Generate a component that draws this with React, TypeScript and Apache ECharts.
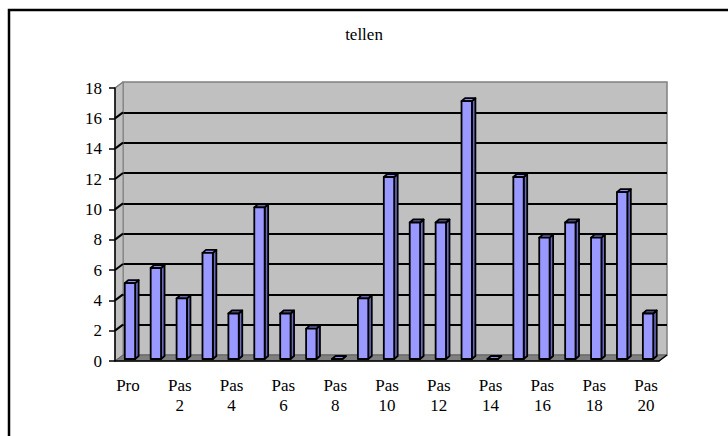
import React, { useEffect, useRef } from "react";
import * as echarts from "echarts";

const categories = [
  "Pro", "Pas 1", "Pas 2", "Pas 3", "Pas 4", "Pas 5", "Pas 6", "Pas 7", "Pas 8", "Pas 9", "Pas 10",
  "Pas 11", "Pas 12", "Pas 13", "Pas 14", "Pas 15", "Pas 16", "Pas 17", "Pas 18", "Pas 19", "Pas 20",
];
const values = [5, 6, 4, 7, 3, 10, 3, 2, 0, 4, 12, 9, 9, 17, 0, 12, 8, 9, 8, 11, 3];
const yTicks = [0, 2, 4, 6, 8, 10, 12, 14, 16, 18];
const title = "tellen";

const DX = 8;
const DY = -6;
const FONT = "'Liberation Serif', 'Times New Roman', serif";

export default function App() {
  const ref = useRef<HTMLDivElement>(null);
  useEffect(() => {
    if (!ref.current) return;
    const chart = echarts.init(ref.current, null, { renderer: "svg" });
    const gA = { left: 115, top: 88, width: 544, height: 273 };
    const gB = { left: gA.left + DX, top: gA.top + DY, width: gA.width, height: gA.height };

    const wallsRender = (params: any, api: any) => {
      const cs = params.coordSys;
      const x = cs.x, y = cs.y, w = cs.width, h = cs.height;
      const children: any[] = [];
      children.push({
        type: "polygon",
        shape: { points: [[x, y], [x + DX, y + DY], [x + DX, y + h + DY], [x, y + h]] },
        style: { fill: "#c0c0c0", stroke: "#808080", lineWidth: 1 },
      });
      children.push({
        type: "polygon",
        shape: { points: [[x, y + h], [x + DX, y + h + DY], [x + w + DX, y + h + DY], [x + w, y + h]] },
        style: { fill: "#808080", stroke: "#606060", lineWidth: 1 },
      });
      yTicks.forEach((t, i) => {
        if (i === 0) return;
        const yp = api.coord([0, t])[1];
        const last = i === yTicks.length - 1;
        children.push({
          type: "line",
          shape: { x1: x, y1: yp, x2: x + DX, y2: yp + DY },
          style: { stroke: last ? "#808080" : "#000", lineWidth: last ? 1.5 : 2 },
        });
      });
      children.push({
        type: "line",
        shape: { x1: x + w, y1: y + h, x2: x + w + DX, y2: y + h + DY },
        style: { stroke: "#000", lineWidth: 1.5 },
      });
      return { type: "group", children };
    };

    const barRender = (params: any, api: any) => {
      const idx = api.value(0);
      const v = api.value(1);
      const p0 = api.coord([idx, 0]);
      const p1 = api.coord([idx, v]);
      const band = api.size([1, 0])[0];
      const bw = band * 0.4;
      const bx = 2, by = -2;
      const dx = 3.5, dy = -3;
      const x = p0[0] - bw / 2 + bx;
      const yb = p0[1] + by;
      const yt = p1[1] + by;
      const stroke = { stroke: "#000", lineWidth: 1.8, lineJoin: "round" };
      return {
        type: "group",
        children: [
          {
            type: "polygon",
            shape: { points: [[x + bw, yt], [x + bw + dx, yt + dy], [x + bw + dx, yb + dy], [x + bw, yb]] },
            style: { fill: "#6a6abf", ...stroke },
          },
          {
            type: "polygon",
            shape: { points: [[x, yt], [x + dx, yt + dy], [x + bw + dx, yt + dy], [x + bw, yt]] },
            style: { fill: "#8c8cec", ...stroke },
          },
          {
            type: "rect",
            shape: { x, y: yt, width: bw, height: yb - yt },
            style: { fill: "#9999ff", ...stroke },
          },
        ],
      };
    };

    chart.setOption({
      animation: false,
      backgroundColor: "#fff",
      title: {
        text: title,
        left: "center",
        top: 21,
        textStyle: { fontFamily: FONT, fontSize: 17, fontWeight: "normal", color: "#000" },
      },
      grid: [
        { ...gA, show: false },
        { ...gB, show: true, backgroundColor: "#c0c0c0", borderColor: "#808080", borderWidth: 1.5, z: 0 },
      ],
      xAxis: [
        {
          type: "category",
          gridIndex: 0,
          data: categories,
          axisLine: { lineStyle: { color: "#000", width: 1.5 } },
          axisTick: { interval: 0, length: 6, lineStyle: { color: "#000", width: 1.5 } },
          axisLabel: {
            interval: 1,
            margin: 14,
            formatter: (v: string) => v.replace(" ", "\n"),
            fontFamily: FONT,
            fontSize: 17,
            lineHeight: 20,
            color: "#000",
          },
          z: 10,
        },
        {
          type: "category",
          gridIndex: 1,
          data: categories,
          show: false,
        },
      ],
      yAxis: [
        {
          type: "value",
          gridIndex: 0,
          min: 0,
          max: 18,
          interval: 2,
          axisLine: { show: true, lineStyle: { color: "#000", width: 1.5 } },
          axisTick: { show: true, length: 6, lineStyle: { color: "#000", width: 1.5 } },
          axisLabel: { margin: 13, fontFamily: FONT, fontSize: 17, color: "#000" },
          splitLine: { show: false },
          z: 10,
        },
        {
          type: "value",
          gridIndex: 1,
          min: 0,
          max: 18,
          interval: 2,
          axisLine: { show: false },
          axisTick: { show: false },
          axisLabel: { show: false },
          splitLine: { show: true, showMinLine: false, showMaxLine: false, lineStyle: { color: "#000", width: 2 } },
        },
      ],
      graphic: [
        {
          type: "rect",
          shape: { x: 9, y: 10, width: 800, height: 500 },
          style: { fill: "none", stroke: "#000", lineWidth: 2.5 },
          z: 100,
        },
      ],
      series: [
        {
          type: "custom",
          name: "walls",
          xAxisIndex: 0,
          yAxisIndex: 0,
          data: [[0, 0]],
          renderItem: wallsRender,
          z: 1,
          silent: true,
        },
        {
          type: "custom",
          name: "tellen",
          xAxisIndex: 0,
          yAxisIndex: 0,
          data: values.map((v, i) => [i, v]),
          renderItem: barRender,
          z: 2,
        },
      ],
    });
    return () => chart.dispose();
  }, []);
  return <div ref={ref} style={{ position: "absolute", left: 0, top: 0, width: 728, height: 436 }} />;
}
